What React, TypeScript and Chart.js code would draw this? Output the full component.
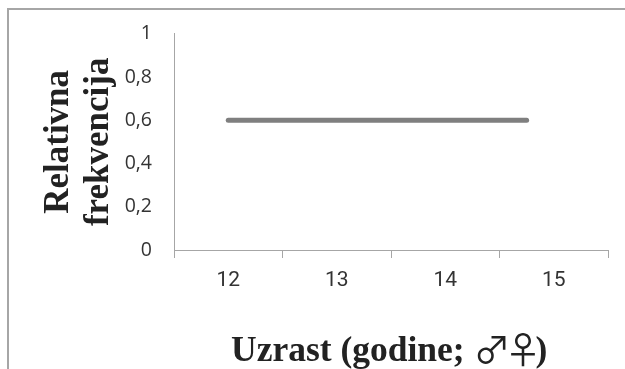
import React, { useEffect, useRef } from "react";
import { Chart, registerables } from "chart.js";

Chart.register(...registerables);

const categories = ["12", "13", "14", "15"];
const ageStart = [12, 14.75];
const frequency = [0.6, 0.6];
const yTickLabels: Record<string, string> = { "0": "0", "0.2": "0,2", "0.4": "0,4", "0.6": "0,6", "0.8": "0,8", "1": "1" };
const yTitle = ["Relativna", "frekvencija"];
const xTitleRuns = [
  { text: "Uzrast (godine; ", font: "bold 35.5px 'Liberation Serif'", spacing: "0px", drop: 0 },
  { text: "♂♀", font: "normal 37px 'Noto Sans CJK JP'", spacing: "-6px", drop: 3 },
  { text: ")", font: "bold 35.5px 'Liberation Serif'", spacing: "0px", drop: 0 },
];

const xTitlePlugin = {
  id: "xTitleRuns",
  afterDraw(chart: any) {
    const { ctx } = chart;
    ctx.save();
    ctx.fillStyle = "#222";
    ctx.textBaseline = "alphabetic";
    ctx.textAlign = "left";
    let x = 231;
    for (const run of xTitleRuns) {
      ctx.font = run.font;
      ctx.letterSpacing = run.spacing;
      ctx.fillText(run.text, x, 361 + run.drop);
      x += ctx.measureText(run.text).width;
    }
    ctx.restore();
  },
};

export default function App() {
  const ref = useRef<HTMLCanvasElement>(null);
  useEffect(() => {
    const chart = new Chart(ref.current!, {
      type: "line",
      data: {
        labels: categories,
        datasets: [{
          data: ageStart.map((x, i) => ({ x, y: frequency[i] })),
          xAxisID: "age",
          borderColor: "#7f7f7f",
          borderWidth: 5,
          borderCapStyle: "round",
          pointRadius: 0,
          tension: 0,
        }],
      },
      plugins: [xTitlePlugin],
      options: {
        animation: false,
        responsive: false,
        plugins: { legend: { display: false }, tooltip: { enabled: false } },
        layout: { padding: { top: 33, right: 17, bottom: 0, left: 36 } },
        scales: {
          age: { type: "linear", min: 11.5, max: 15.5, display: false },
          x: {
            type: "category",
            labels: categories,
            offset: true,
            grid: { offset: true, drawOnChartArea: false, drawTicks: true, tickLength: 8, color: "#a6a6a6", lineWidth: 1 },
            border: { color: "#a6a6a6", width: 1 },
            ticks: { color: "#333", font: { family: "Roboto", size: 21 }, padding: 10, maxRotation: 0 },
            afterFit: (s: any) => { s.height = 119; },
          },
          y: {
            min: 0,
            max: 1,
            afterBuildTicks: (s: any) => { s.ticks = Object.keys(yTickLabels).map(Number).sort((a, b) => a - b).map((value) => ({ value })); },
            grid: { drawOnChartArea: false, drawTicks: false },
            border: { color: "#a6a6a6", width: 1 },
            ticks: {
              color: "#333",
              font: { family: "Open Sans", size: 19.5 },
              padding: 22,
              callback: (v: any) => yTickLabels[String(v)],
            },
            title: {
              display: true,
              text: yTitle,
              color: "#222",
              font: { family: "Liberation Serif", size: 35, weight: "bold", lineHeight: 1.14 },
              padding: { top: 3, bottom: 0 },
            },
            afterFit: (s: any) => { s.width = 138; },
          },
        },
      },
    });
    return () => chart.destroy();
  }, []);
  return (
    <div style={{ position: "fixed", left: 0, top: 0, width: 625, height: 369, background: "#fff" }}>
      <div style={{ position: "absolute", left: 7, top: 8, right: 0, bottom: 0, borderLeft: "2px solid #a6a6a6", borderTop: "2px solid #a6a6a6" }} />
      <canvas ref={ref} width={625} height={369} style={{ position: "absolute", left: 0, top: 0 }} />
    </div>
  );
}
